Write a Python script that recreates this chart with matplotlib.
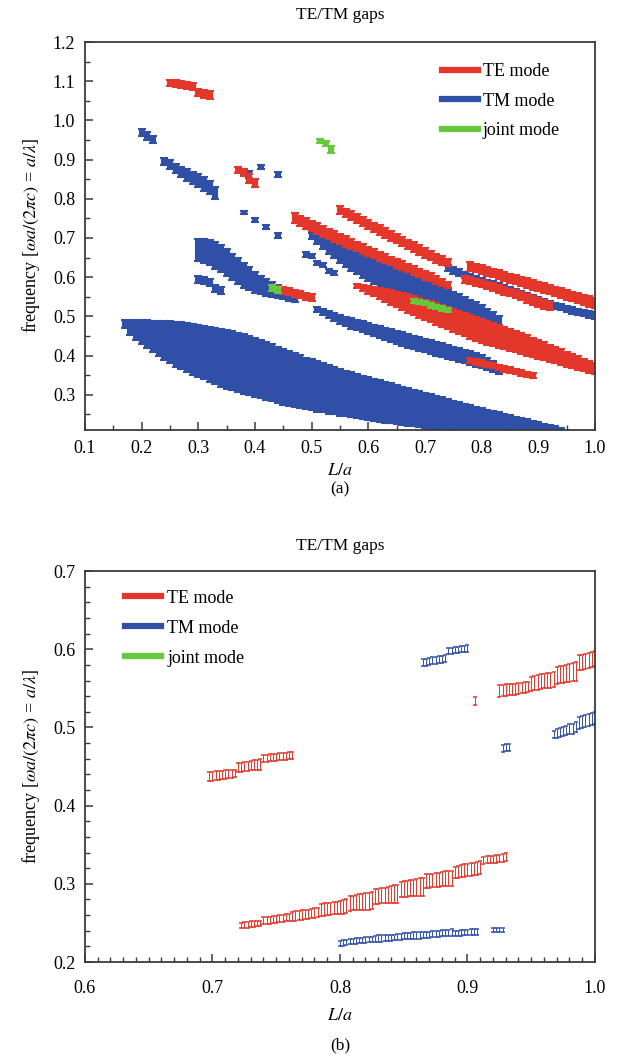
import numpy as np
import matplotlib
matplotlib.use('Agg')
import matplotlib.pyplot as plt
from matplotlib.lines import Line2D
from matplotlib.ticker import MultipleLocator

plt.rcParams['font.family'] = ['Liberation Serif', 'DejaVu Serif']
plt.rcParams['mathtext.fontset'] = 'stix'

TE_COL = '#e3372b'
TM_COL = '#3050a8'
JT_COL = '#66c83c'


def grid(a, b, step):
    return np.round(np.arange(a, b + step / 2, step), 4)


# ---------------- panel (a): gap edges ----------------
te1_x = grid(0.25, 0.32, 0.01)
te1_hi = [1.104, 1.102, 1.100, 1.098, 1.095, 1.080, 1.077, 1.075]
te1_lo = [1.088, 1.085, 1.082, 1.080, 1.077, 1.062, 1.058, 1.055]

tm1_x = grid(0.20, 0.22, 0.01)
tm1_hi = [0.978, 0.970, 0.960]
tm1_lo = [0.960, 0.950, 0.942]

tm2_x = grid(0.24, 0.33, 0.01)
tm2_hi = [0.905, 0.898, 0.890, 0.882, 0.875, 0.868, 0.862, 0.855, 0.845, 0.830]
tm2_lo = [0.885, 0.875, 0.865, 0.855, 0.845, 0.838, 0.830, 0.820, 0.812, 0.800]

te2_x = grid(0.37, 0.40, 0.01)
te2_hi = [0.880, 0.875, 0.862, 0.850]
te2_lo = [0.865, 0.858, 0.840, 0.830]

tm3_x = [0.38, 0.39, 0.41, 0.44]
tm3_hi = [0.875, 0.870, 0.885, 0.868]
tm3_lo = [0.860, 0.852, 0.875, 0.855]

tm4_x = [0.38, 0.40, 0.42, 0.44, 0.49, 0.50, 0.51, 0.52, 0.53, 0.54]
tm4_hi = [0.768, 0.750, 0.733, 0.712, 0.665, 0.660, 0.642, 0.637, 0.620, 0.617]
tm4_lo = [0.760, 0.740, 0.722, 0.700, 0.652, 0.648, 0.630, 0.625, 0.610, 0.606]

jt1_x = [0.515, 0.525, 0.535]
jt1_hi = [0.952, 0.948, 0.935]
jt1_lo = [0.942, 0.935, 0.918]

tm5_x = grid(0.30, 0.47, 0.01)
tm5_hi = [0.698, 0.698, 0.695, 0.690, 0.683, 0.672, 0.660, 0.648, 0.636, 0.625,
          0.614, 0.604, 0.595, 0.587, 0.580, 0.574, 0.568, 0.562]
tm5_lo = [0.640, 0.636, 0.630, 0.622, 0.612, 0.602, 0.592, 0.582, 0.573, 0.566,
          0.560, 0.556, 0.553, 0.550, 0.547, 0.544, 0.540, 0.537]

tm6_x = grid(0.30, 0.34, 0.01)
tm6_hi = [0.602, 0.600, 0.595, 0.580, 0.575]
tm6_lo = [0.585, 0.582, 0.578, 0.562, 0.557]

jt2_x = [0.43, 0.44]
jt2_hi = [0.580, 0.575]
jt2_lo = [0.565, 0.560]

te3_x = grid(0.44, 0.50, 0.01)
te3_hi = [0.578, 0.575, 0.572, 0.568, 0.565, 0.560, 0.556]
te3_lo = [0.560, 0.557, 0.554, 0.550, 0.547, 0.543, 0.540]

te4_x = grid(0.47, 0.74, 0.01)
te4_hi = [0.763, 0.757, 0.750, 0.743, 0.737, 0.730, 0.724, 0.717, 0.711, 0.704,
          0.698, 0.691, 0.685, 0.678, 0.672, 0.665, 0.659, 0.652, 0.646, 0.640,
          0.634, 0.628, 0.622, 0.616, 0.610, 0.603, 0.596, 0.588]
te4_lo = [0.737, 0.731, 0.724, 0.717, 0.710, 0.703, 0.697, 0.691, 0.684, 0.678,
          0.672, 0.666, 0.660, 0.654, 0.648, 0.642, 0.636, 0.630, 0.624, 0.618,
          0.612, 0.606, 0.600, 0.594, 0.589, 0.583, 0.577, 0.572]

te5_x = grid(0.55, 0.74, 0.01)
te5_hi = [0.782, 0.775, 0.768, 0.761, 0.753, 0.746, 0.739, 0.732, 0.725, 0.717,
          0.710, 0.703, 0.696, 0.689, 0.681, 0.674, 0.667, 0.660, 0.653, 0.646]
te5_lo = [0.760, 0.753, 0.746, 0.739, 0.731, 0.723, 0.715, 0.708, 0.701, 0.693,
          0.686, 0.679, 0.672, 0.665, 0.657, 0.650, 0.643, 0.637, 0.632, 0.628]

te6_x = grid(0.78, 1.00, 0.01)
te6_hi = [0.639, 0.634, 0.630, 0.626, 0.622, 0.618, 0.613, 0.609, 0.605, 0.601,
          0.597, 0.593, 0.588, 0.584, 0.580, 0.576, 0.572, 0.568, 0.563, 0.559,
          0.555, 0.551, 0.547]
te6_lo = [0.617, 0.612, 0.608, 0.604, 0.600, 0.595, 0.590, 0.586, 0.582, 0.577,
          0.573, 0.568, 0.564, 0.560, 0.556, 0.551, 0.547, 0.543, 0.538, 0.534,
          0.530, 0.525, 0.521]

te7_x = grid(0.77, 0.92, 0.01)
te7_hi = [0.604, 0.600, 0.596, 0.592, 0.588, 0.584, 0.580, 0.575, 0.571, 0.566,
          0.561, 0.556, 0.551, 0.546, 0.541, 0.536]
te7_lo = [0.586, 0.582, 0.578, 0.574, 0.570, 0.565, 0.560, 0.555, 0.551, 0.546,
          0.541, 0.535, 0.530, 0.525, 0.520, 0.515]

tm7_x = grid(0.74, 1.00, 0.01)
tm7_hi = [0.632, 0.626, 0.620, 0.614, 0.609, 0.604, 0.599, 0.594, 0.589, 0.584,
          0.579, 0.574, 0.569, 0.564, 0.559, 0.554, 0.549, 0.544, 0.539, 0.535,
          0.531, 0.527, 0.523, 0.519, 0.516, 0.513, 0.510]
tm7_lo = [0.615, 0.609, 0.603, 0.598, 0.593, 0.588, 0.583, 0.578, 0.573, 0.568,
          0.563, 0.558, 0.553, 0.548, 0.543, 0.538, 0.533, 0.528, 0.523, 0.519,
          0.515, 0.511, 0.507, 0.503, 0.500, 0.497, 0.494]

tm8_x = grid(0.50, 0.83, 0.01)
tm8_hi = [0.712, 0.706, 0.700, 0.694, 0.688, 0.682, 0.676, 0.670, 0.664, 0.658,
          0.652, 0.646, 0.640, 0.634, 0.628, 0.622, 0.616, 0.610, 0.604, 0.598,
          0.592, 0.586, 0.580, 0.574, 0.568, 0.562, 0.556, 0.550, 0.543, 0.536,
          0.528, 0.520, 0.510, 0.500]
tm8_lo = [0.698, 0.685, 0.672, 0.660, 0.648, 0.637, 0.627, 0.617, 0.607, 0.598,
          0.590, 0.582, 0.575, 0.568, 0.562, 0.556, 0.551, 0.546, 0.541, 0.536,
          0.531, 0.526, 0.522, 0.518, 0.514, 0.510, 0.506, 0.502, 0.498, 0.494,
          0.490, 0.486, 0.482, 0.478]

te8_x = grid(0.58, 1.00, 0.01)
te8_hi = [0.582, 0.580, 0.577, 0.574, 0.572, 0.569, 0.566, 0.563, 0.560, 0.557,
          0.553, 0.548, 0.543, 0.538, 0.533, 0.528, 0.523, 0.518, 0.513, 0.508,
          0.503, 0.498, 0.493, 0.488, 0.483, 0.478, 0.473, 0.468, 0.463, 0.458,
          0.452, 0.446, 0.440, 0.434, 0.428, 0.422, 0.416, 0.410, 0.404, 0.398,
          0.392, 0.386, 0.380]
te8_lo = [0.572, 0.565, 0.558, 0.551, 0.544, 0.537, 0.530, 0.523, 0.516, 0.509,
          0.503, 0.497, 0.491, 0.485, 0.479, 0.473, 0.467, 0.461, 0.455, 0.449,
          0.443, 0.438, 0.433, 0.428, 0.424, 0.420, 0.416, 0.412, 0.408, 0.404,
          0.400, 0.396, 0.392, 0.388, 0.384, 0.380, 0.376, 0.372, 0.368, 0.364,
          0.360, 0.356, 0.352]

jt3_x = grid(0.68, 0.74, 0.01)
jt3_hi = [0.545, 0.542, 0.538, 0.534, 0.530, 0.526, 0.522]
jt3_lo = [0.535, 0.532, 0.528, 0.522, 0.518, 0.514, 0.510]

tm9_x = grid(0.51, 0.83, 0.01)
tm9_hi = [0.525, 0.519, 0.513, 0.508, 0.503, 0.499, 0.495, 0.491, 0.487, 0.483,
          0.479, 0.475, 0.471, 0.467, 0.463, 0.459, 0.455, 0.451, 0.447, 0.443,
          0.439, 0.435, 0.431, 0.427, 0.423, 0.419, 0.415, 0.411, 0.406, 0.401,
          0.395, 0.385, 0.372]
tm9_lo = [0.512, 0.503, 0.495, 0.488, 0.481, 0.475, 0.469, 0.464, 0.459, 0.454,
          0.449, 0.444, 0.439, 0.434, 0.429, 0.424, 0.420, 0.416, 0.412, 0.408,
          0.404, 0.400, 0.396, 0.392, 0.388, 0.384, 0.380, 0.376, 0.372, 0.368,
          0.364, 0.358, 0.352]

te9_x = grid(0.78, 0.89, 0.01)
te9_hi = [0.394, 0.391, 0.388, 0.384, 0.381, 0.377, 0.374, 0.370, 0.366, 0.362,
          0.359, 0.355]
te9_lo = [0.380, 0.377, 0.374, 0.370, 0.367, 0.363, 0.359, 0.355, 0.352, 0.348,
          0.345, 0.342]

tm10_x = grid(0.17, 0.94, 0.01)
tm10_hi = [0.490, 0.491, 0.491, 0.490, 0.490, 0.489, 0.489, 0.488, 0.487, 0.486,
           0.485, 0.483, 0.481, 0.478, 0.476, 0.473, 0.471, 0.468, 0.465, 0.462,
           0.458, 0.454, 0.450, 0.445, 0.440, 0.434, 0.429, 0.423, 0.418, 0.412,
           0.406, 0.401, 0.395, 0.390, 0.385, 0.380, 0.375, 0.370, 0.365, 0.361,
           0.357, 0.353, 0.349, 0.345, 0.341, 0.337, 0.333, 0.329, 0.325, 0.321,
           0.317, 0.313, 0.309, 0.305, 0.301, 0.297, 0.293, 0.289, 0.285, 0.281,
           0.277, 0.273, 0.269, 0.265, 0.262, 0.258, 0.255, 0.251, 0.248, 0.244,
           0.241, 0.237, 0.234, 0.230, 0.226, 0.223, 0.219, 0.215]
tm10_lo = [0.470, 0.452, 0.440, 0.430, 0.419, 0.408, 0.398, 0.389, 0.380, 0.372,
           0.365, 0.358, 0.351, 0.345, 0.339, 0.333, 0.327, 0.321, 0.315, 0.311,
           0.307, 0.303, 0.299, 0.295, 0.291, 0.287, 0.283, 0.279, 0.275, 0.272,
           0.269, 0.266, 0.263, 0.260, 0.257, 0.255, 0.252, 0.250, 0.247, 0.245,
           0.242, 0.240, 0.237, 0.235, 0.233, 0.231, 0.229, 0.227, 0.225, 0.223,
           0.221, 0.219, 0.217, 0.215, 0.213] + [0.200] * 23

bands_a = [
    (TM_COL, tm10_x, tm10_lo, tm10_hi), (TM_COL, tm1_x, tm1_lo, tm1_hi),
    (TM_COL, tm2_x, tm2_lo, tm2_hi), (TM_COL, tm3_x, tm3_lo, tm3_hi),
    (TM_COL, tm4_x, tm4_lo, tm4_hi), (TM_COL, tm5_x, tm5_lo, tm5_hi),
    (TM_COL, tm6_x, tm6_lo, tm6_hi), (TM_COL, tm7_x, tm7_lo, tm7_hi),
    (TM_COL, tm8_x, tm8_lo, tm8_hi), (TM_COL, tm9_x, tm9_lo, tm9_hi),
    (TE_COL, te1_x, te1_lo, te1_hi), (TE_COL, te2_x, te2_lo, te2_hi),
    (TE_COL, te3_x, te3_lo, te3_hi), (TE_COL, te4_x, te4_lo, te4_hi),
    (TE_COL, te5_x, te5_lo, te5_hi), (TE_COL, te6_x, te6_lo, te6_hi),
    (TE_COL, te7_x, te7_lo, te7_hi), (TE_COL, te8_x, te8_lo, te8_hi),
    (TE_COL, te9_x, te9_lo, te9_hi),
    (JT_COL, jt1_x, jt1_lo, jt1_hi), (JT_COL, jt2_x, jt2_lo, jt2_hi),
    (JT_COL, jt3_x, jt3_lo, jt3_hi),
]

# ---------------- panel (b) ----------------
teb1_x = grid(0.6975, 0.7625, 0.0025)
teb1_hi = [0.443, 0.443, 0.444, 0.444, 0.444, 0.445, 0.445, 0.446, 0.446,
           0.454, 0.455, 0.456, 0.456, 0.457, 0.458, 0.458, 0.459,
           0.465, 0.465, 0.466, 0.466, 0.466, 0.467, 0.467, 0.467, 0.468, 0.468]
teb1_lo = [0.432, 0.432, 0.433, 0.433, 0.434, 0.434, 0.435, 0.435, 0.436,
           0.443, 0.443, 0.444, 0.444, 0.445, 0.445, 0.446, 0.446,
           0.456, 0.456, 0.457, 0.457, 0.457, 0.458, 0.458, 0.458, 0.459, 0.459]

teb2_x = grid(0.7225, 0.93, 0.0025)
teb2_hi = [0.250, 0.251, 0.251, 0.252, 0.252, 0.253, 0.253,
           0.257, 0.258, 0.258, 0.259, 0.259, 0.260, 0.260, 0.261, 0.261,
           0.264, 0.265, 0.265, 0.266, 0.267, 0.267, 0.268, 0.269, 0.269,
           0.274, 0.275, 0.275, 0.276, 0.277, 0.277, 0.278, 0.279, 0.280,
           0.285, 0.285, 0.286, 0.287, 0.287, 0.288, 0.288, 0.289,
           0.293, 0.294, 0.295, 0.295, 0.296, 0.297, 0.298, 0.299,
           0.302, 0.303, 0.304, 0.305, 0.305, 0.306, 0.307, 0.308,
           0.312, 0.313, 0.313, 0.314, 0.314, 0.315, 0.316, 0.316, 0.317,
           0.322, 0.323, 0.324, 0.325, 0.325, 0.326, 0.327, 0.328, 0.329,
           0.334, 0.335, 0.335, 0.336, 0.337, 0.337, 0.338, 0.339]
teb2_lo = [0.243, 0.244, 0.244, 0.245, 0.245, 0.246, 0.246,
           0.248, 0.249, 0.249, 0.250, 0.250, 0.251, 0.251, 0.252, 0.252,
           0.253, 0.253, 0.254, 0.254, 0.255, 0.255, 0.256, 0.256, 0.257,
           0.259, 0.259, 0.260, 0.260, 0.261, 0.261, 0.262, 0.262, 0.263,
           0.265, 0.266, 0.266, 0.266, 0.267, 0.267, 0.267, 0.268,
           0.274, 0.274, 0.275, 0.275, 0.275, 0.276, 0.276, 0.276,
           0.283, 0.283, 0.283, 0.284, 0.284, 0.284, 0.285, 0.285,
           0.295, 0.295, 0.296, 0.296, 0.296, 0.297, 0.297, 0.297, 0.297,
           0.308, 0.308, 0.309, 0.309, 0.310, 0.310, 0.311, 0.311, 0.312,
           0.325, 0.326, 0.326, 0.327, 0.327, 0.328, 0.328, 0.329]

teb3_x = [0.906]
teb3_hi = [0.539]
teb3_lo = [0.529]

teb4_x = grid(0.925, 1.0, 0.0025)
teb4_hi = [0.554, 0.554, 0.555, 0.555, 0.556, 0.556, 0.557, 0.557, 0.558, 0.558,
           0.565, 0.566, 0.567, 0.568, 0.568, 0.569, 0.570, 0.571,
           0.577, 0.578, 0.579, 0.580, 0.581, 0.582, 0.584,
           0.592, 0.593, 0.594, 0.595, 0.597, 0.598]
teb4_lo = [0.539, 0.540, 0.540, 0.541, 0.542, 0.542, 0.543, 0.544, 0.544, 0.545,
           0.547, 0.548, 0.548, 0.549, 0.550, 0.550, 0.551, 0.552,
           0.556, 0.557, 0.557, 0.558, 0.558, 0.559, 0.560,
           0.573, 0.574, 0.575, 0.576, 0.577, 0.578]

tmb1_x = grid(0.80, 0.9075, 0.0025)
tmb1_hi = [0.227, 0.228, 0.228,
           0.230, 0.230, 0.231, 0.231, 0.231, 0.232, 0.232, 0.232,
           0.233, 0.234, 0.234, 0.234, 0.235, 0.235, 0.235, 0.236,
           0.236, 0.237, 0.237, 0.237, 0.238, 0.238, 0.238, 0.239,
           0.239, 0.239, 0.240, 0.240, 0.240, 0.241, 0.241, 0.241, 0.242,
           0.240, 0.240, 0.241, 0.241, 0.241, 0.242, 0.242, 0.242]
tmb1_lo = [0.221, 0.221, 0.222,
           0.223, 0.223, 0.223, 0.224, 0.224, 0.224, 0.225, 0.225,
           0.226, 0.226, 0.226, 0.227, 0.227, 0.227, 0.228, 0.228,
           0.228, 0.229, 0.229, 0.229, 0.230, 0.230, 0.230, 0.231,
           0.231, 0.231, 0.232, 0.232, 0.232, 0.233, 0.233, 0.233, 0.233,
           0.233, 0.233, 0.233, 0.234, 0.234, 0.234, 0.234, 0.234]

tmb2_x = grid(0.92, 0.9275, 0.0025)
tmb2_hi = [0.244, 0.244, 0.244, 0.244]
tmb2_lo = [0.238, 0.238, 0.238, 0.238]

tmb3_x = grid(0.9275, 0.9325, 0.0025)
tmb3_hi = [0.478, 0.479, 0.479]
tmb3_lo = [0.469, 0.470, 0.470]

tmb4_x = grid(0.865, 0.90, 0.0025)
tmb4_hi = [0.588, 0.588, 0.589, 0.590, 0.590, 0.591, 0.591, 0.592,
           0.602, 0.602, 0.603, 0.603, 0.604, 0.604, 0.605]
tmb4_lo = [0.578, 0.579, 0.580, 0.581, 0.581, 0.582, 0.583, 0.584,
           0.594, 0.594, 0.595, 0.595, 0.596, 0.596, 0.597]

tmb5_x = grid(0.9675, 1.0, 0.0025)
tmb5_hi = [0.496, 0.498, 0.499, 0.501, 0.502, 0.504, 0.505, 0.507,
           0.513, 0.514, 0.516, 0.517, 0.518, 0.520]
tmb5_lo = [0.486, 0.487, 0.488, 0.489, 0.490, 0.491, 0.492, 0.494,
           0.498, 0.499, 0.501, 0.502, 0.503, 0.505]

bands_b = [
    (TM_COL, tmb1_x, tmb1_lo, tmb1_hi), (TM_COL, tmb2_x, tmb2_lo, tmb2_hi),
    (TM_COL, tmb3_x, tmb3_lo, tmb3_hi), (TM_COL, tmb4_x, tmb4_lo, tmb4_hi),
    (TM_COL, tmb5_x, tmb5_lo, tmb5_hi),
    (TE_COL, teb1_x, teb1_lo, teb1_hi), (TE_COL, teb2_x, teb2_lo, teb2_hi),
    (TE_COL, teb3_x, teb3_lo, teb3_hi), (TE_COL, teb4_x, teb4_lo, teb4_hi),
]

labels = ['TE mode', 'TM mode', 'joint mode']
colors = [TE_COL, TM_COL, JT_COL]


def draw_gaps(ax, bands, lw, cap, capw):
    for col, x, lo, hi in bands:
        lo = np.asarray(lo)
        hi = np.asarray(hi)
        mid = (lo + hi) / 2
        ax.errorbar(x, mid, yerr=[mid - lo, hi - mid], fmt='none', ecolor=col,
                    elinewidth=lw, capsize=cap, capthick=capw)


def style(ax):
    for s in ax.spines.values():
        s.set_color('#3a3a3a')
        s.set_linewidth(1.3)
    ax.tick_params(which='both', direction='in', top=False, right=False,
                   labelsize=13, color='#3a3a3a')
    ax.tick_params(which='major', length=6, width=1.1, pad=7)
    ax.tick_params(which='minor', length=3.5, width=1.0)


fig = plt.figure(figsize=(6.19, 10.61), dpi=100)

ax1 = fig.add_axes([0.1373, 0.5947, 0.8239, 0.3657])
draw_gaps(ax1, bands_a, 4.4, 3.2, 1.5)
ax1.set_xlim(0.1, 1.0)
ax1.set_ylim(0.21, 1.2)
ax1.xaxis.set_major_locator(MultipleLocator(0.1))
ax1.xaxis.set_minor_locator(MultipleLocator(0.05))
ax1.yaxis.set_major_locator(MultipleLocator(0.1))
ax1.yaxis.set_minor_locator(MultipleLocator(0.05))
ax1.set_yticks(np.round(np.arange(0.3, 1.21, 0.1), 1))
style(ax1)
ax1.set_xlabel(r'$L/a$', fontsize=13, labelpad=4)
ax1.set_ylabel(r'frequency [$\omega a/(2\pi c)$ = $a/\lambda$]', fontsize=13, labelpad=8)
h1 = [Line2D([], [], color=c, lw=4.5) for c in colors]
ax1.legend(h1, labels, loc='upper left', bbox_to_anchor=(0.70, 0.945),
           frameon=False, fontsize=13, handlelength=2.0, handletextpad=0.25,
           labelspacing=0.68, borderpad=0, borderaxespad=0)

ax2 = fig.add_axes([0.1373, 0.0933, 0.8239, 0.3685])
draw_gaps(ax2, bands_b, 0.7, 1.6, 1.1)
ax2.set_xlim(0.6, 1.0)
ax2.set_ylim(0.2, 0.7)
ax2.xaxis.set_major_locator(MultipleLocator(0.1))
ax2.xaxis.set_minor_locator(MultipleLocator(0.01))
ax2.yaxis.set_major_locator(MultipleLocator(0.1))
ax2.yaxis.set_minor_locator(MultipleLocator(0.02))
style(ax2)
ax2.tick_params(axis='x', which='major', pad=13)
ax2.set_xlabel(r'$L/a$', fontsize=13, labelpad=7)
ax2.set_ylabel(r'frequency [$\omega a/(2\pi c)$ = $a/\lambda$]', fontsize=13, labelpad=8)
h2 = [Line2D([], [], color=c, lw=4.5) for c in colors]
ax2.legend(h2, labels, loc='upper left', bbox_to_anchor=(0.078, 0.952),
           frameon=False, fontsize=13, handlelength=2.0, handletextpad=0.35,
           labelspacing=0.72, borderpad=0, borderaxespad=0)

fig.text(0.549, 1 - 15 / 1061, 'TE/TM gaps', ha='center', va='center', fontsize=12.5)
fig.text(0.549, 1 - 546 / 1061, 'TE/TM gaps', ha='center', va='center', fontsize=12.5)
fig.text(0.549, 1 - 489 / 1061, '(a)', ha='center', va='center', fontsize=12.5)
fig.text(0.549, 1 - 1045 / 1061, '(b)', ha='center', va='center', fontsize=12.5)

fig.savefig('out.png', dpi=100)
